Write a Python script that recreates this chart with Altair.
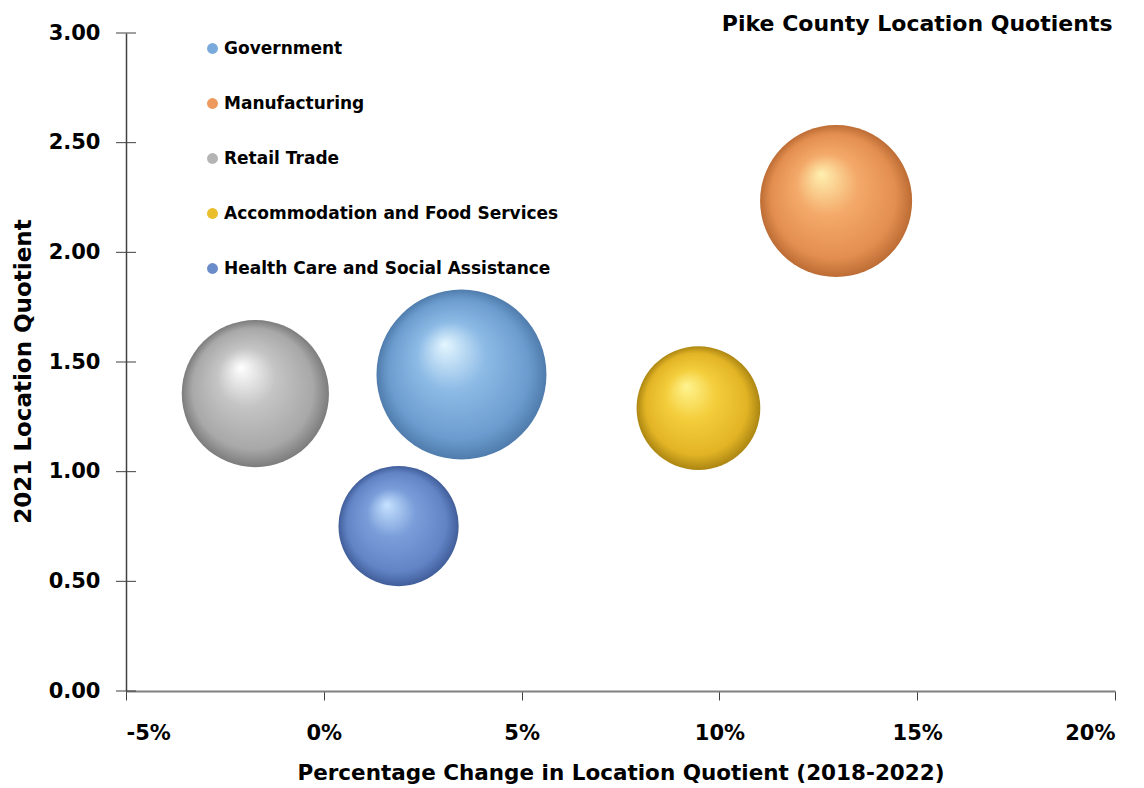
import altair as alt
import pandas as pd

# ---- data ----
industries = [
    "Government",
    "Manufacturing",
    "Retail Trade",
    "Accommodation and Food Services",
    "Health Care and Social Assistance",
]
pct_change = [0.0348, 0.1295, -0.0173, 0.0947, 0.0189]   # 2018-2022 change in LQ
lq_2021 = [1.443, 2.234, 1.356, 1.290, 0.752]             # 2021 location quotient
bubble_size = [100, 80, 75, 53, 50]                       # relative bubble size

legend_colors = ["#7AAADC", "#EE9A5E", "#B4B4B4", "#E9BE2A", "#6B8CCB"]
# sphere shading: highlight, mid tone, rim
sphere_stops = [
    ["#E4F6FF", "#8DBBE6", "#6C9CCF", "#4F7CAC"],
    ["#FFF0B0", "#F4AA6A", "#E38E50", "#BC6C34"],
    ["#FFFFFF", "#C4C4C4", "#A8A8A8", "#7C7C7C"],
    ["#FFF490", "#F4CE3C", "#E2B425", "#AC8612"],
    ["#C6E2FF", "#7B9EDA", "#6284C6", "#415E9A"],
]

y_ticks = [0.0, 0.5, 1.0, 1.5, 2.0, 2.5, 3.0]
x_ticks = [-0.05, 0.0, 0.05, 0.10, 0.15, 0.20]

df = pd.DataFrame({
    "Industry": industries,
    "Change": pct_change,
    "LQ": lq_2021,
    "Size": bubble_size,
})
tick_df = pd.DataFrame({"t": y_ticks})

FONT = "DejaVu Sans"
W, H = 989, 658

x_enc = alt.X(
    "Change:Q",
    scale=alt.Scale(domain=[-0.05, 0.20], nice=False, zero=False),
    axis=alt.Axis(
        values=x_ticks,
        labelExpr="(datum.value < 0 ? '-' : '') + format(abs(datum.value), '.0%')",
        title="Percentage Change in Location Quotient (2018-2022)",
        grid=False,
        domainColor="#808080", domainWidth=2,
        tickColor="#404040", tickSize=9, tickWidth=1,
        labelFont=FONT, labelFontSize=21, labelFontWeight="bold", labelColor="#000000",
        labelPadding=22,
        titleFont=FONT, titleFontSize=21.5, titleFontWeight="bold", titleColor="#000000",
        titlePadding=19,
    ),
)
y_enc = alt.Y(
    "LQ:Q",
    scale=alt.Scale(domain=[0, 3], nice=False, zero=True),
    axis=alt.Axis(
        values=y_ticks,
        format=".2f",
        title="2021 Location Quotient",
        grid=False,
        domainColor="#404040", domainWidth=1.5,
        ticks=False,
        labelFont=FONT, labelFontSize=21, labelFontWeight="bold", labelColor="#000000",
        labelPadding=26,
        titleFont=FONT, titleFontSize=23, titleFontWeight="bold", titleColor="#000000",
        titlePadding=13, titleY=338,
    ),
)
size_enc = alt.Size(
    "Size:Q",
    scale=alt.Scale(domain=[0, 100], range=[0, 28900]),
    legend=None,
)

# invisible layer that only supplies the legend
legend_layer = alt.Chart(df).mark_circle(opacity=0).encode(
    x=x_enc,
    y=y_enc,
    color=alt.Color(
        "Industry:N",
        scale=alt.Scale(domain=industries, range=legend_colors),
        legend=alt.Legend(
            orient="none", legendX=78, legendY=7, title=None,
            symbolType="circle", symbolSize=120, symbolOpacity=1,
            symbolStrokeWidth=0,
            labelFont=FONT, labelFontSize=17, labelFontWeight="bold",
            labelColor="#000000", labelOffset=3, rowPadding=37,
            labelLimit=400,
        ),
    ),
)

layers = [legend_layer]
for name, stops in zip(industries, sphere_stops):
    grad = {
        "gradient": "radial",
        "x1": 0.40, "y1": 0.32, "r1": 0.0,
        "x2": 0.5, "y2": 0.5, "r2": 0.5,
        "stops": [
            {"offset": 0.0, "color": stops[0]},
            {"offset": 0.40, "color": stops[1]},
            {"offset": 0.82, "color": stops[2]},
            {"offset": 1.0, "color": stops[3]},
        ],
    }
    layers.append(
        alt.Chart(df)
        .transform_filter(alt.datum.Industry == name)
        .mark_circle(color=grad, opacity=1)
        .encode(x=x_enc, y=y_enc, size=size_enc)
    )

# Excel-style cross ticks on the y axis
cross_ticks = alt.Chart(tick_df).mark_rule(color="#404040", strokeWidth=1).encode(
    x=alt.value(-10), x2=alt.value(10),
    y=alt.Y("t:Q"),
)
layers.append(cross_ticks)

chart = alt.layer(*layers).properties(
    width=W, height=H,
    title=alt.TitleParams(
        "Pike County Location Quotients",
        anchor="end", font=FONT, fontSize=22, fontWeight="bold",
        color="#000000", offset=0, dy=14, dx=-3,
    ),
    autosize=alt.AutoSizeParams(type="none"),
    padding={"left": 126, "top": 33, "right": 29, "bottom": 97},
).configure(background="#FFFFFF").configure_view(stroke=None, strokeWidth=0)

chart.save("out.html", embed_options={"renderer": "svg", "actions": False})
